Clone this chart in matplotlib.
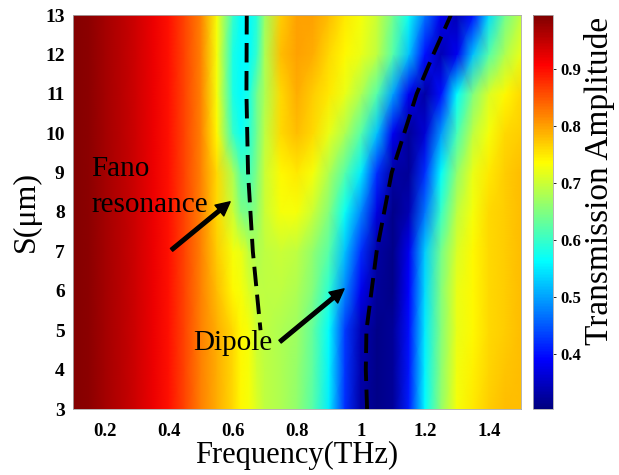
import numpy as np
import matplotlib
matplotlib.use("Agg")
import matplotlib.pyplot as plt
from matplotlib.colors import LinearSegmentedColormap

# ---- data ----
freq = [0.1, 0.15, 0.2, 0.25, 0.3, 0.35, 0.4, 0.45, 0.5,
        0.55, 0.6, 0.625, 0.65, 0.675, 0.7, 0.75, 0.8, 0.85, 0.9, 0.95,
        1.0, 1.05, 1.1, 1.15, 1.2, 1.25, 1.3, 1.35, 1.4, 1.45, 1.5]
s_rows = [3, 4, 5, 6, 7, 8, 9, 10, 11, 12, 13]

low_f = [0.99, 0.985, 0.97, 0.955, 0.94, 0.92, 0.895, 0.86, 0.82]
t_s3 = low_f + [0.79, 0.76, 0.74, 0.73, 0.71, 0.69, 0.68, 0.66, 0.62, 0.55, 0.42,
                0.33, 0.31, 0.32, 0.41, 0.56, 0.66, 0.73, 0.75, 0.77, 0.78, 0.78]
t_s4 = low_f + [0.79, 0.76, 0.74, 0.73, 0.705, 0.69, 0.68, 0.665, 0.625, 0.555, 0.425,
                0.335, 0.31, 0.32, 0.405, 0.555, 0.655, 0.725, 0.745, 0.765, 0.775, 0.78]
t_s5 = low_f + [0.79, 0.76, 0.74, 0.73, 0.70, 0.69, 0.68, 0.67, 0.63, 0.56, 0.43,
                0.34, 0.31, 0.32, 0.40, 0.55, 0.65, 0.72, 0.74, 0.76, 0.77, 0.78]
t_s6 = low_f + [0.78, 0.74, 0.73, 0.71, 0.69, 0.69, 0.69, 0.68, 0.65, 0.59, 0.48,
                0.38, 0.32, 0.31, 0.39, 0.54, 0.65, 0.72, 0.74, 0.76, 0.77, 0.78]
t_s7 = low_f + [0.77, 0.73, 0.72, 0.69, 0.68, 0.69, 0.70, 0.69, 0.66, 0.62, 0.52,
                0.42, 0.33, 0.31, 0.38, 0.53, 0.64, 0.71, 0.74, 0.76, 0.77, 0.78]
t_s8 = low_f + [0.76, 0.70, 0.65, 0.64, 0.66, 0.70, 0.73, 0.73, 0.70, 0.65, 0.57,
                0.48, 0.37, 0.31, 0.34, 0.47, 0.60, 0.69, 0.73, 0.76, 0.77, 0.78]
t_s9 = low_f + [0.76, 0.68, 0.62, 0.61, 0.65, 0.70, 0.74, 0.75, 0.73, 0.68, 0.62,
                0.55, 0.42, 0.33, 0.32, 0.42, 0.56, 0.66, 0.72, 0.75, 0.77, 0.78]
t_s10 = low_f + [0.74, 0.60, 0.57, 0.59, 0.64, 0.69, 0.76, 0.78, 0.76, 0.72, 0.68,
                 0.62, 0.52, 0.38, 0.32, 0.36, 0.49, 0.61, 0.69, 0.73, 0.76, 0.77]
t_s11 = low_f + [0.73, 0.58, 0.56, 0.58, 0.64, 0.68, 0.76, 0.79, 0.77, 0.75, 0.72,
                 0.68, 0.62, 0.50, 0.38, 0.33, 0.40, 0.56, 0.65, 0.71, 0.74, 0.76]
t_s12 = low_f + [0.73, 0.58, 0.56, 0.56, 0.60, 0.68, 0.78, 0.80, 0.79, 0.76, 0.74,
                 0.72, 0.69, 0.62, 0.52, 0.40, 0.34, 0.38, 0.52, 0.62, 0.68, 0.72]
t_s13 = low_f + [0.73, 0.60, 0.56, 0.56, 0.59, 0.67, 0.77, 0.80, 0.80, 0.78, 0.75,
                 0.73, 0.70, 0.64, 0.57, 0.47, 0.38, 0.34, 0.40, 0.54, 0.64, 0.69]

fano_s = [13, 11, 9, 7, 5]
fano_f = [0.643, 0.642, 0.647, 0.662, 0.686]
dip_s = [3, 4, 5, 7, 9, 11, 12, 13]
dip_f = [1.019, 1.015, 1.017, 1.049, 1.096, 1.174, 1.226, 1.281]

x_ticks = [0.2, 0.4, 0.6, 0.8, 1.0, 1.2, 1.4]
x_ticklabels = ["0.2", "0.4", "0.6", "0.8", "1", "1.2", "1.4"]
y_ticks = [3, 4, 5, 6, 7, 8, 9, 10, 11, 12, 13]
cb_ticks = [0.4, 0.5, 0.6, 0.7, 0.8, 0.9]

T = np.array([t_s3, t_s4, t_s5, t_s6, t_s7, t_s8, t_s9, t_s10, t_s11, t_s12, t_s13])

# MATLAB-style jet
jet_m = LinearSegmentedColormap.from_list(
    "jet_matlab",
    [(0.0, (0, 0, 0.5)), (0.125, (0, 0, 1)), (0.375, (0, 1, 1)),
     (0.625, (1, 1, 0)), (0.875, (1, 0, 0)), (1.0, (0.5, 0, 0))], N=256)

serif = ["Liberation Serif", "DejaVu Serif"]
plt.rcParams["font.family"] = serif

fig = plt.figure(figsize=(6.19, 4.75), dpi=100)
ax = fig.add_axes([73 / 619, 66 / 475, 448 / 619, 394 / 475])
cax = fig.add_axes([533 / 619, 66 / 475, 20 / 619, 394 / 475])

mesh = ax.pcolormesh(freq, s_rows, T, shading="gouraud", cmap=jet_m,
                     vmin=0.303, vmax=0.995, rasterized=True)

ax.plot(fano_f, fano_s, color="black", lw=2.8, dashes=(5, 2.2))
ax.plot(dip_f, dip_s, color="black", lw=2.8, dashes=(5, 2.2))

arrow_kw = dict(facecolor="black", edgecolor="black", width=2.6,
                headwidth=10, headlength=10, shrink=0)
ax.annotate("", xy=(0.591, 8.26), xytext=(0.408, 7.04), arrowprops=arrow_kw)
ax.annotate("", xy=(0.947, 6.05), xytext=(0.747, 4.71), arrowprops=arrow_kw)

ax.text(0.158, 8.91, "Fano", fontsize=21, va="baseline", ha="left")
ax.text(0.158, 8.0, "resonance", fontsize=21, va="baseline", ha="left")
ax.text(0.476, 4.5, "Dipole", fontsize=21, va="baseline", ha="left")

ax.set_xlim(0.1, 1.5)
ax.set_ylim(3, 13)
ax.set_xticks(x_ticks)
ax.set_xticklabels(x_ticklabels)
ax.set_yticks(y_ticks)
ax.tick_params(axis="both", length=0)
ax.tick_params(axis="x", pad=10, labelsize=13.5)
ax.tick_params(axis="y", pad=6, labelsize=14)
for lab in ax.get_xticklabels() + ax.get_yticklabels():
    lab.set_fontweight("bold")
for sp in ax.spines.values():
    sp.set_color("#aaaaaa")
    sp.set_linewidth(0.6)

ax.set_xlabel("Frequency(THz)", fontsize=22, labelpad=1)
ax.set_ylabel("S(\u03bcm)", fontsize=23, labelpad=3)

cb = fig.colorbar(mesh, cax=cax)
cb.set_ticks(cb_ticks)
cb.ax.tick_params(length=2, width=0.6, labelsize=12, pad=3)
for lab in cb.ax.get_yticklabels():
    lab.set_fontweight("bold")
cb.outline.set_edgecolor("#aaaaaa")
cb.outline.set_linewidth(0.6)
cb.set_label("Transmission Amplitude", fontsize=24)
cb.ax.yaxis.set_label_coords(2.55, 0.58)

fig.savefig("out.png", dpi=100)
